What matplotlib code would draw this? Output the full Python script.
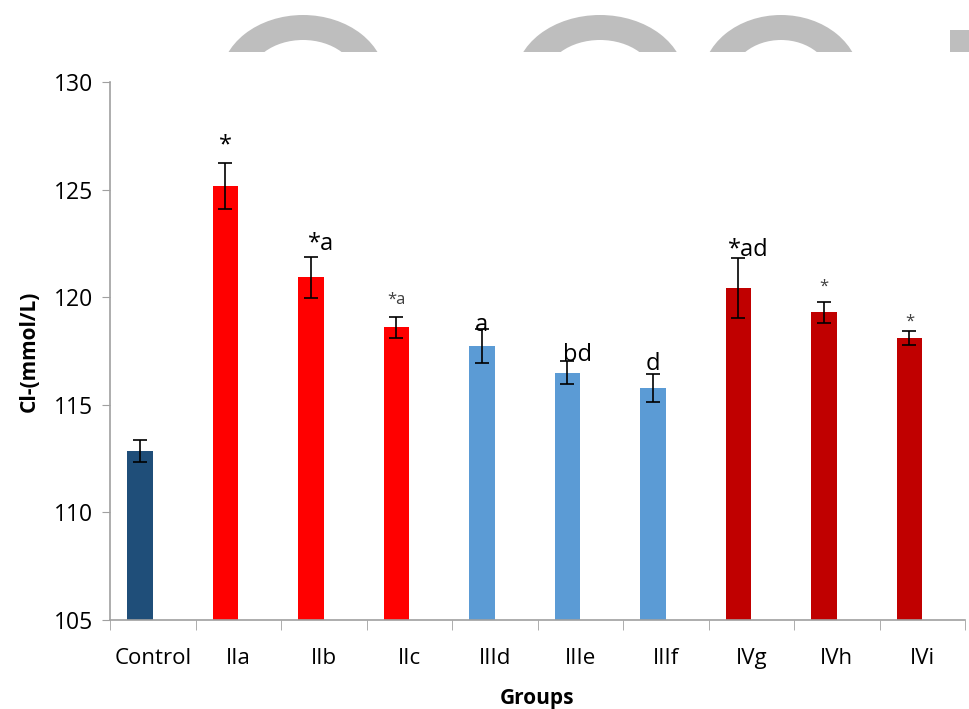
import matplotlib
matplotlib.use("Agg")
from matplotlib import pyplot as plt
from matplotlib.patches import Ellipse, Rectangle
import numpy as np

groups = ['Control', 'IIa', 'IIb', 'IIc', 'IIId', 'IIIe', 'IIIf', 'IVg', 'IVh', 'IVi']
means = [112.85, 125.15, 120.92, 118.6, 117.72, 116.5, 115.8, 120.42, 119.3, 118.1]
errs = [0.5, 1.07, 0.95, 0.5, 0.78, 0.55, 0.65, 1.4, 0.5, 0.33]
colors = ['#1F4E79', '#FF0000', '#FF0000', '#FF0000', '#5B9BD5', '#5B9BD5', '#5B9BD5',
          '#C00000', '#C00000', '#C00000']
marks = ['', '*', '*a', '*a', 'a', 'bd', 'd', '*ad', '*', '*']
mark_y = [0, 127.05, 122.45, 119.85, 118.7, 117.3, 116.9, 122.2, 120.5, 118.85]
mark_small = [False, False, False, True, False, False, False, False, True, True]

plt.rcParams['font.family'] = ['Open Sans', 'DejaVu Sans']

fig = plt.figure(figsize=(9.7, 7.09), dpi=100)
fig.patch.set_facecolor('white')

# faded logo fragments across the top edge
wm = fig.add_axes([0, 1 - 52 / 709, 1, 52 / 709])
wm.set_xlim(0, 970)
wm.set_ylim(52, 0)
wm.axis('off')
for cx, w_out, h_out, w_in, h_in in [(303, 165, 130, 108, 80),
                                     (600, 170, 130, 110, 80),
                                     (781, 158, 130, 100, 80)]:
    wm.add_patch(Ellipse((cx, 80), w_out, h_out, color='#BEBEBE', lw=0))
    wm.add_patch(Ellipse((cx, 80), w_in, h_in, color='white', lw=0))
wm.add_patch(Rectangle((950, 30), 25, 30, color='#BEBEBE', lw=0))

ax = fig.add_axes([110 / 970, 89 / 709, 855 / 970, 538 / 709])
x = np.arange(len(groups))
xb = x - 0.15
ax.bar(xb, np.array(means) - 105, bottom=105, width=0.3, color=colors,
       yerr=errs, capsize=5, error_kw=dict(ecolor='black', elinewidth=1.2, capthick=1.2))

for i, (m, y, small) in enumerate(zip(marks, mark_y, mark_small)):
    if not m:
        continue
    ax.text(xb[i] + (0.12 if len(m) > 1 and not small else 0), y, m, ha='center', va='center',
            fontsize=12 if small else 17, color='#404040' if small else 'black')

ax.set_xlim(-0.5, len(groups) - 0.5)
ax.set_ylim(105, 130)
ax.set_yticks([105, 110, 115, 120, 125, 130])
ax.set_xticks(x)
ax.set_xticklabels(groups)
ax.set_xticks(np.arange(-0.5, len(groups)), minor=True)
ax.tick_params(axis='x', which='major', length=0, pad=20, labelsize=16)
ax.tick_params(axis='x', which='minor', length=7, color='#A0A0A0')
ax.tick_params(axis='y', length=6, color='#A0A0A0', labelsize=16.5, pad=6)

for s in ['top', 'right']:
    ax.spines[s].set_visible(False)
for s in ['left', 'bottom']:
    ax.spines[s].set_color('#A0A0A0')
    ax.spines[s].set_linewidth(1.2)

ax.set_ylabel('Cl-(mmol/L)', fontsize=15, fontweight='bold', labelpad=10)
ax.set_xlabel('Groups', fontsize=15, fontweight='bold', labelpad=14)

fig.savefig('out.png', dpi=100)
